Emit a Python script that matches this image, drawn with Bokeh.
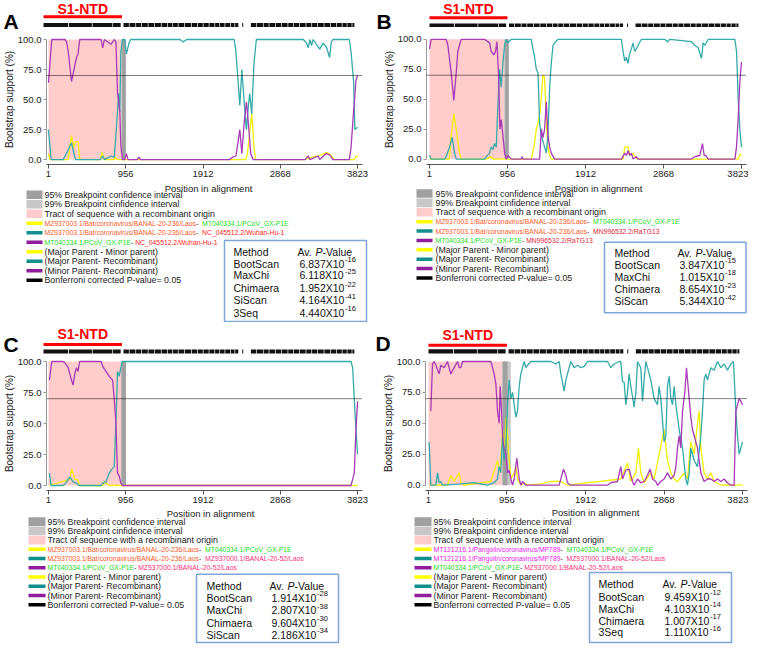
import math
from bokeh.plotting import figure
from bokeh.models import Range1d, FixedTicker, PrintfTickFormatter, Span
from bokeh.layouts import row, column
from bokeh.embed import file_html
from bokeh.resources import INLINE
from bokeh.core.properties import value

# ---------------- data ----------------
TICKS_X = [1, 956, 1912, 2868, 3823]
TICKS_Y = [0, 25, 50, 75, 100]
S1_NTD = (1, 956)
SITE_START, SITE_END = 1, 3785
SITE_GAPS = [(300, 310), (590, 598), (840, 848), (940, 975), (1040, 1048), (1120, 1128), (1190, 1198),
             (1270, 1278), (1350, 1358), (1430, 1438), (1505, 1513), (1570, 1578), (1636, 1644),
             (1712, 1720), (1798, 1806), (1872, 1880), (1940, 1948), (2012, 2020), (2082, 2090),
             (2142, 2150), (2205, 2213), (2272, 2280), (2326, 2334), (2372, 2420), (2432, 2525),
             (2592, 2600), (2672, 2680), (2742, 2750), (2822, 2830), (2892, 2900), (2972, 2980),
             (3042, 3050), (3112, 3120), (3192, 3200), (3262, 3270), (3332, 3340), (3412, 3420),
             (3492, 3500), (3562, 3570), (3632, 3640), (3692, 3700), (3752, 3760)]

# Panel A
A_yellow_pos = [1, 21, 245, 286, 314, 334, 367, 387, 643, 664, 692, 814, 826, 855, 2441, 2461, 2514, 2542, 2563, 3172, 3254, 3335, 3449, 3498, 3538, 3782, 3803, 3823]
A_yellow_val = [5, 0, 0, 20, 10, 15, 15, 0, 0, 6, 0, 0, 2, 0, 0, 5, 38, 10, 0, 0, 2, 3, 6, 3, 0, 0, 3, 2]
A_teal_pos = [1, 34, 184, 245, 286, 306, 334, 643, 672, 692, 774, 814, 835, 855, 867, 883, 896, 916, 944, 965, 997, 1017, 1627, 1668, 1709, 2298, 2319, 2351, 2367, 2392, 2408, 2432, 2449, 2473, 2489, 2514, 2542, 2571, 3152, 3193, 3213, 3233, 3254, 3274, 3355, 3396, 3437, 3477, 3498, 3518, 3721, 3742, 3774, 3790, 3823]
A_teal_val = [25, 0, 0, 8, 14, 8, 0, 0, 3, 0, 3, 2, 20, 40, 55, 40, 90, 100, 100, 88, 97, 100, 100, 98, 100, 100, 90, 60, 45, 75, 60, 38, 25, 45, 55, 38, 80, 100, 100, 97, 93, 100, 95, 100, 92, 97, 94, 85, 98, 100, 100, 90, 65, 25, 27]
A_purple_pos = [1, 42, 204, 225, 245, 286, 326, 347, 367, 387, 652, 672, 692, 774, 814, 835, 855, 867, 883, 896, 916, 944, 965, 985, 1099, 1119, 1140, 2237, 2278, 2319, 2367, 2392, 2420, 2449, 2473, 2502, 2530, 3172, 3213, 3233, 3335, 3355, 3437, 3477, 3518, 3721, 3742, 3774, 3803, 3823]
A_purple_val = [64, 100, 100, 98, 90, 65, 78, 85, 88, 100, 100, 93, 100, 96, 100, 98, 55, 50, 40, 12, 0, 0, 5, 0, 0, 2, 0, 0, 2, 3, 25, 5, 30, 48, 30, 5, 0, 0, 3, 0, 3, 0, 5, 4, 0, 0, 10, 40, 66, 70]
A_tract, A_ci99, A_ci95 = (1, 905), (900, 960), (912, 955)

# Panel B
B_yellow_pos = [1, 246, 267, 299, 328, 348, 369, 389, 696, 757, 778, 1248, 1281, 1309, 1330, 1358, 1391, 1411, 1432, 1452, 1473, 1493, 2372, 2393, 2433, 2454, 2495, 2515, 2556, 3783, 3803, 3823]
B_yellow_val = [0, 0, 20, 38, 25, 15, 5, 0, 0, 2, 0, 0, 10, 25, 30, 40, 70, 68, 30, 10, 3, 0, 0, 10, 10, 3, 5, 2, 0, 0, 4, 3]
B_teal_pos = [1, 21, 185, 205, 246, 279, 308, 328, 676, 696, 737, 757, 778, 798, 819, 839, 859, 880, 900, 921, 941, 962, 1003, 1248, 1268, 1289, 1309, 1330, 1350, 1371, 1391, 1411, 1432, 1452, 1473, 1493, 1514, 1534, 1575, 2352, 2372, 2393, 2413, 2433, 2454, 2474, 2495, 2515, 2535, 2556, 2597, 2883, 2916, 2944, 3210, 3250, 3292, 3333, 3353, 3374, 3415, 3742, 3762, 3783, 3803, 3823]
B_teal_val = [3, 0, 0, 2, 10, 18, 5, 0, 0, 2, 5, 10, 8, 13, 10, 45, 75, 60, 80, 95, 100, 97, 100, 100, 92, 85, 75, 72, 30, 20, 15, 10, 5, 20, 60, 80, 95, 97, 100, 100, 90, 82, 85, 80, 88, 92, 97, 90, 92, 95, 100, 100, 98, 100, 98, 95, 93, 84, 97, 95, 100, 100, 90, 50, 25, 10]
B_purple_pos = [1, 21, 185, 205, 226, 267, 299, 328, 348, 389, 676, 737, 757, 790, 810, 827, 847, 864, 880, 900, 921, 941, 962, 1003, 1125, 1135, 1146, 1350, 1371, 1391, 1411, 1432, 1452, 1473, 1493, 1534, 2352, 2393, 2413, 2433, 2454, 2474, 2495, 2535, 2556, 3210, 3250, 3312, 3345, 3366, 3386, 3415, 3742, 3762, 3783, 3803, 3823]
B_purple_val = [92, 100, 100, 100, 95, 72, 49, 72, 90, 100, 100, 97, 90, 87, 90, 98, 70, 25, 33, 20, 5, 0, 3, 0, 0, 2, 0, 0, 25, 18, 25, 48, 20, 10, 5, 0, 0, 5, 3, 7, 3, 5, 0, 2, 0, 0, 2, 3, 13, 3, 3, 0, 0, 10, 35, 65, 81]
B_tract, B_ci99, B_ci95 = (1, 921), (915, 974), (929, 970)

# Panel C
C_yellow_pos = [13, 265, 286, 306, 326, 359, 387, 672, 692, 733, 753, 3823]
C_yellow_val = [0, 5, 13, 10, 5, 5, 0, 0, 3, 1, 0, 0]
C_teal_pos = [13, 34, 184, 204, 265, 306, 347, 375, 652, 672, 713, 753, 782, 814, 835, 855, 875, 896, 916, 3742, 3762, 3782, 3803, 3823]
C_teal_val = [10, 0, 0, 1, 7, 3, 2, 0, 0, 2, 3, 10, 13, 15, 50, 92, 88, 95, 100, 100, 95, 70, 45, 25]
C_purple_pos = [13, 42, 184, 204, 245, 286, 306, 326, 347, 367, 387, 652, 672, 692, 733, 765, 794, 814, 835, 855, 875, 896, 916, 3742, 3782, 3803, 3823]
C_purple_val = [85, 100, 100, 99, 95, 85, 81, 90, 95, 92, 100, 100, 96, 94, 90, 87, 85, 70, 50, 10, 8, 2, 0, 0, 10, 45, 68]
C_tract, C_ci99, C_ci95 = (1, 900), (898, 960), (904, 958)

# Panel D
D_yellow_pos = [9, 232, 273, 313, 374, 395, 435, 760, 841, 874, 902, 922, 950, 971, 1003, 1044, 1064, 1084, 1125, 1165, 1206, 1368, 1490, 1612, 1693, 2342, 2423, 2443, 2464, 2525, 2557, 2585, 2626, 2707, 2748, 2869, 2910, 2951, 2991, 3032, 3113, 3153, 3194, 3235, 3275, 3296, 3316, 3356, 3397, 3437, 3478, 3559, 3823]
D_yellow_val = [0, 0, 8, 3, 10, 2, 0, 3, 20, 10, 45, 25, 55, 30, 5, 10, 15, 5, 0, 2, 0, 1, 3, 3, 0, 5, 18, 10, 3, 10, 30, 10, 2, 10, 5, 45, 20, 10, 5, 3, 10, 5, 35, 25, 50, 60, 30, 10, 5, 10, 3, 0, 0]
D_teal_pos = [9, 29, 90, 111, 131, 151, 171, 395, 557, 719, 800, 841, 861, 881, 902, 922, 942, 963, 983, 1003, 1024, 1064, 1084, 1105, 1125, 1165, 1186, 1206, 1247, 1490, 1551, 1591, 1612, 1652, 1673, 1713, 1733, 1774, 1815, 1855, 1896, 1936, 2180, 2220, 2261, 2322, 2342, 2362, 2383, 2403, 2423, 2443, 2464, 2504, 2525, 2545, 2585, 2606, 2626, 2646, 2667, 2707, 2748, 2788, 2808, 2829, 2869, 2890, 2910, 2930, 2951, 2971, 2991, 3012, 3032, 3052, 3093, 3133, 3153, 3174, 3194, 3235, 3275, 3316, 3336, 3356, 3376, 3397, 3437, 3478, 3518, 3559, 3600, 3640, 3681, 3713, 3742, 3762, 3782, 3802, 3823]
D_teal_val = [35, 0, 0, 10, 2, 3, 0, 1, 2, 0, 2, 5, 15, 10, 40, 20, 30, 65, 85, 70, 75, 55, 60, 80, 90, 100, 95, 97, 100, 100, 98, 100, 90, 76, 85, 95, 100, 95, 97, 95, 96, 100, 100, 95, 98, 100, 100, 84, 83, 65, 75, 90, 80, 63, 75, 100, 95, 68, 85, 100, 95, 85, 70, 65, 80, 70, 35, 40, 80, 88, 70, 65, 80, 65, 55, 45, 30, 5, 0, 10, 30, 20, 15, 40, 60, 85, 90, 85, 95, 93, 100, 95, 98, 93, 98, 100, 60, 40, 25, 30, 35]
D_purple_pos = [29, 50, 70, 90, 131, 151, 192, 232, 273, 313, 354, 374, 395, 415, 760, 800, 821, 841, 861, 874, 890, 902, 922, 942, 963, 983, 1003, 1024, 1044, 1076, 1105, 1125, 1145, 1186, 1591, 1612, 1644, 1673, 1693, 1733, 2180, 2220, 2301, 2342, 2362, 2403, 2443, 2484, 2504, 2545, 2585, 2626, 2667, 2699, 2727, 2768, 2788, 2829, 2869, 2910, 2951, 2991, 3012, 3032, 3052, 3072, 3093, 3121, 3141, 3174, 3194, 3214, 3235, 3275, 3316, 3356, 3397, 3437, 3478, 3518, 3559, 3600, 3640, 3681, 3721, 3742, 3762, 3782, 3802, 3823]
D_purple_val = [60, 98, 100, 97, 90, 97, 95, 100, 90, 95, 100, 95, 95, 100, 100, 90, 82, 60, 50, 80, 60, 40, 30, 25, 10, 12, 5, 0, 5, 22, 5, 0, 3, 0, 0, 5, 13, 8, 2, 0, 0, 2, 3, 15, 5, 12, 13, 3, 0, 5, 2, 3, 8, 13, 5, 3, 0, 3, 5, 10, 5, 8, 15, 30, 40, 30, 60, 75, 95, 70, 55, 45, 40, 30, 10, 3, 5, 5, 3, 5, 3, 5, 2, 0, 0, 60, 65, 70, 68, 65]
D_tract, D_ci99, D_ci95 = (1, 902), (902, 1003), (902, 963)

# legend / p-value texts
STRAIN_BANAL236 = "MZ937003.1/Bat/coronavirus/BANAL-20-236/Laos"
STRAIN_GXP1E = "MT040334.1/PCoV_GX-P1E"
STRAIN_WUHAN = "NC_045512.2/Wuhan-Hu-1"
STRAIN_RATG13 = "MN996532.2/RaTG13"
STRAIN_BANAL52 = "MZ937000.1/BANAL-20-52/Laos"
STRAIN_MP789 = "MT121216.1/Pangolin/coronavirus/MP789"

A_methods = ["BootScan", "MaxChi", "Chimaera", "SiScan", "3Seq"]
A_mant = ["6.837", "6.118", "1.952", "4.164", "4.440"]
A_exp = ["-16", "-25", "-22", "-41", "-16"]
B_methods = ["BootScan", "MaxChi", "Chimaera", "SiScan"]
B_mant = ["3.847", "1.015", "8.654", "5.344"]
B_exp = ["-15", "-18", "-23", "-42"]
C_methods = ["BootScan", "MaxChi", "Chimaera", "SiScan"]
C_mant = ["1.914", "2.807", "9.604", "2.186"]
C_exp = ["-28", "-38", "-30", "-34"]
D_methods = ["BootScan", "MaxChi", "Chimaera", "3Seq"]
D_mant = ["9.459", "4.103", "1.007", "1.110"]
D_exp = ["-12", "-14", "-17", "-16"]

LEGEND_FIXED = ["95% Breakpoint confidence interval", "99% Breakpoint cinfidence interval",
                "Tract of sequence with a recombinant origin"]
LEGEND_PAIRS = ["(Major Parent - Minor parent)", "(Major Parent- Recombinant)",
                "(Minor Parent- Recombinant)", "Bonferroni corrected P-value= 0.05"]

# ---------------- style ----------------
FONT = "Liberation Sans"
YEL, TEAL, PURP = "#f2f000", "#35aaaa", "#a83ab8"
SW_YEL, SW_TEAL, SW_PURP = "#ffff00", "#118e8e", "#8e1c9c"
ORANGE, GREEN, RED, CRIMSON, PINK, MAGENTA = "#ff5a28", "#22dd22", "#ff1a1a", "#e0283c", "#ff2e7a", "#ee22ee"
PINK_BG, CI99, CI95 = "#ffcccc", "#c8c8c8", "#a0a0a0"
STRAIN_FS = 6.8

AW = {' ': 278, '-': 333, '.': 278, '/': 278, '_': 556, '(': 333, ')': 333, '%': 889, '=': 584,
      'A': 667, 'B': 667, 'C': 722, 'D': 722, 'E': 667, 'F': 611, 'G': 778, 'H': 722, 'I': 278, 'J': 500,
      'K': 667, 'L': 556, 'M': 833, 'N': 722, 'O': 778, 'P': 667, 'Q': 778, 'R': 722, 'S': 667, 'T': 611,
      'U': 722, 'V': 667, 'W': 944, 'X': 667, 'Y': 667, 'Z': 611,
      'a': 556, 'b': 556, 'c': 500, 'd': 556, 'e': 556, 'f': 278, 'g': 556, 'h': 556, 'i': 222, 'j': 222,
      'k': 500, 'l': 222, 'm': 833, 'n': 556, 'o': 556, 'p': 556, 'q': 556, 'r': 333, 's': 500, 't': 278,
      'u': 556, 'v': 500, 'w': 722, 'x': 500, 'y': 500, 'z': 500}


def tw(s, size):
    return sum(AW.get(c, 556) for c in s) / 1000.0 * size


PANELS = [
    dict(name="A", yellow=(A_yellow_pos, A_yellow_val), teal=(A_teal_pos, A_teal_val), purple=(A_purple_pos, A_purple_val),
         tract=A_tract, ci99=A_ci99, ci95=A_ci95, methods=A_methods, mant=A_mant, exp=A_exp,
         strains=[[(STRAIN_BANAL236, ORANGE), (" - ", "#222"), (STRAIN_GXP1E, GREEN)],
                  [(STRAIN_BANAL236, ORANGE), (" - ", "#222"), (STRAIN_WUHAN, RED)],
                  [(STRAIN_GXP1E, GREEN), ("- ", "#222"), (STRAIN_WUHAN, RED)]],
         x0=43, x1=357, fl=41, fr=362, y100=39.0, y0=159.1, yax=164, head=34, ntd_y=8.6, red_y=16.2, bar_y=(22.5, 26.5),
         lab_x=3, lab_y=21.3, panel_h=322, pia=(208, 187.5), row0=194.2, dy=9.51, sw=(26, 42), tx=44,
         box=(224, 240, 366, 321), mx=233, ax=297, vx=299, rows_y=[251.5, 263.5, 274.9, 287.9, 299.9, 312.3]),
    dict(name="B", yellow=(B_yellow_pos, B_yellow_val), teal=(B_teal_pos, B_teal_val), purple=(B_purple_pos, B_purple_val),
         tract=B_tract, ci99=B_ci99, ci95=B_ci95, methods=B_methods, mant=B_mant, exp=B_exp,
         strains=[[(STRAIN_BANAL236, ORANGE), (" - ", "#222"), (STRAIN_GXP1E, GREEN)],
                  [(STRAIN_BANAL236, ORANGE), (" - ", "#222"), (STRAIN_RATG13, CRIMSON)],
                  [(STRAIN_GXP1E, GREEN), ("- ", "#222"), (STRAIN_RATG13, CRIMSON)]],
         x0=55, x1=367, fl=52, fr=372, y100=38.8, y0=158.6, yax=164, head=34, ntd_y=8.4, red_y=17.2, bar_y=(23.0, 26.6),
         lab_x=2, lab_y=21.3, panel_h=322, pia=(224, 187.5), row0=193.0, dy=9.39, sw=(42, 58), tx=61,
         box=(230, 241.7, 371.5, 312.3), mx=240, ax=303, vx=305, rows_y=[252.8, 264.5, 276.5, 288.9, 300.9]),
    dict(name="C", yellow=(C_yellow_pos, C_yellow_val), teal=(C_teal_pos, C_teal_val), purple=(C_purple_pos, C_purple_val),
         tract=C_tract, ci99=C_ci99, ci95=C_ci95, methods=C_methods, mant=C_mant, exp=C_exp,
         strains=[[(STRAIN_BANAL236, ORANGE), (" - ", "#222"), (STRAIN_GXP1E, GREEN)],
                  [(STRAIN_BANAL236, ORANGE), (" - ", "#222"), (STRAIN_BANAL52, PINK)],
                  [(STRAIN_GXP1E, GREEN), ("- ", "#222"), (STRAIN_BANAL52, PINK)]],
         x0=43, x1=357, fl=41, fr=362, y100=39.0, y0=163.0, yax=168, head=34, ntd_y=11.6, red_y=22.1, bar_y=(27.0, 31.0),
         lab_x=3, lab_y=21.5, panel_h=325, pia=(210, 190.5), row0=199.1, dy=9.25, sw=(28, 45), tx=47,
         box=(196, 251.8, 338, 320), mx=206, ax=269, vx=271, rows_y=[263.5, 275.5, 287.9, 300.3, 312.3]),
    dict(name="D", yellow=(D_yellow_pos, D_yellow_val), teal=(D_teal_pos, D_teal_val), purple=(D_purple_pos, D_purple_val),
         tract=D_tract, ci99=D_ci99, ci95=D_ci95, methods=D_methods, mant=D_mant, exp=D_exp,
         strains=[[(STRAIN_MP789, MAGENTA), (" - ", "#222"), (STRAIN_GXP1E, GREEN)],
                  [(STRAIN_MP789, MAGENTA), (" - ", "#222"), (STRAIN_BANAL52, PINK)],
                  [(STRAIN_GXP1E, GREEN), ("- ", "#222"), (STRAIN_BANAL52, PINK)]],
         x0=54, x1=368, fl=51, fr=373, y100=39.0, y0=162.7, yax=168, head=34, ntd_y=12.2, red_y=22.7, bar_y=(26.7, 31.0),
         lab_x=1, lab_y=21.3, panel_h=325, pia=(221, 189.8), row0=199.1, dy=9.25, sw=(40, 57), tx=59,
         box=(215, 249.9, 357, 320), mx=224, ax=288, vx=290, rows_y=[261.9, 274.0, 286.3, 298.4, 309.7]),
]

W = 374


def scales(P):
    x0, x1 = P["x0"], P["x1"]
    y100, y0 = P["y100"], P["y0"]
    kx = 3822.0 / (x1 - x0)
    ky = 100.0 / (y0 - y100)
    return (lambda px: 1 + (px - x0) * kx), (lambda py: (y0 - py) * ky)


def blank_fig(xr, yr, H):
    f = figure(width=W, height=H, output_backend="svg", toolbar_location=None,
               x_range=xr, y_range=yr, x_axis_type=None, y_axis_type=None,
               min_border=0, min_border_left=0, min_border_right=0, min_border_top=0, min_border_bottom=0,
               outline_line_color=None, background_fill_color="white", border_fill_color="white",
               frame_align=False)
    f.grid.visible = False
    return f


def make_header(P):
    X, _ = scales(P)
    Hh = P["head"]
    h = blank_fig(Range1d(X(0), X(W)), Range1d(Hh, 0), Hh)
    lefts, rights = [], []
    prev = SITE_START
    for g0, g1 in SITE_GAPS:
        lefts.append(prev)
        rights.append(g0)
        prev = g1
    lefts.append(prev)
    rights.append(SITE_END)
    b0, b1 = P["bar_y"]
    h.quad(left=lefts, right=rights, bottom=b1, top=b0, fill_color="#111111", line_color=None)
    h.segment(x0=[S1_NTD[0]], x1=[S1_NTD[1]], y0=[P["red_y"]], y1=[P["red_y"]],
              line_color="#ff0000", line_width=3)
    h.text(x=[(S1_NTD[0] + S1_NTD[1]) / 2], y=[P["ntd_y"]], text=["S1-NTD"], text_align="center",
           text_baseline="middle", text_color="#ff0000", text_font=value(FONT), text_font_style="bold",
           text_font_size=value("14px"))
    h.text(x=[X(P["lab_x"])], y=[P["lab_y"]], text=[P["name"]], text_align="left",
           text_baseline="alphabetic", text_color="#000000", text_font=value(FONT), text_font_style="bold",
           text_font_size=value("21px"))
    return h


def make_chart(P):
    X, Y = scales(P)
    fl, fr, yax, Hh = P["fl"], P["fr"], P["yax"], P["head"]
    H = yax + 18 - Hh
    p = figure(width=W, height=H, output_backend="svg", toolbar_location=None,
               x_range=Range1d(X(fl), X(fr)), y_range=Range1d(Y(yax), Y(Hh)),
               min_border_left=fl, min_border_right=W - fr, min_border_top=0, min_border_bottom=18,
               background_fill_color="white", border_fill_color="white", outline_line_color=None,
               frame_align=False)
    p.grid.visible = False

    t0, t1 = P["tract"]
    p.quad(left=[t0], right=[t1], bottom=[0], top=[100], fill_color=PINK_BG, line_color=None)
    c0, c1 = P["ci99"]
    p.quad(left=[c0], right=[c1], bottom=[0], top=[100], fill_color=CI99, line_color=None)
    c0, c1 = P["ci95"]
    p.quad(left=[c0], right=[c1], bottom=[0], top=[100], fill_color=CI95, line_color=None)

    for key, col in (("yellow", YEL), ("teal", TEAL), ("purple", PURP)):
        xs, ys = P[key]
        p.line(xs, ys, line_color=col, line_width=1.3)

    p.add_layout(Span(location=70, dimension="width", line_color="#000000", line_width=1, line_dash="1 1"))

    p.xaxis.ticker = FixedTicker(ticks=TICKS_X)
    p.yaxis.ticker = FixedTicker(ticks=TICKS_Y)
    p.yaxis.formatter = PrintfTickFormatter(format="%.1f")
    p.yaxis.bounds = (0, 100)
    for ax in (p.xaxis, p.yaxis):
        ax.major_label_text_font = FONT
        ax.major_label_text_font_size = "9.5px"
        ax.major_label_text_color = "#222222"
        ax.minor_tick_line_color = None
        ax.major_tick_in = 0
    p.xaxis.major_tick_out = 4
    p.xaxis.major_label_standoff = 2
    p.xaxis.axis_line_color = "#555555"
    p.xaxis.major_tick_line_color = "#555555"
    p.yaxis.major_tick_out = 3
    p.yaxis.major_label_standoff = 2
    p.yaxis.axis_line_color = "#999999"
    p.yaxis.major_tick_line_color = "#999999"
    p.yaxis.axis_label = "Bootstrap support (%)"
    p.yaxis.axis_label_text_font = FONT
    p.yaxis.axis_label_text_font_size = "10px"
    p.yaxis.axis_label_text_font_style = "normal"
    p.yaxis.axis_label_text_color = "#222222"
    p.yaxis.axis_label_standoff = 0
    return p


def make_legend(P):
    top = P["yax"] + 18
    H = P["panel_h"] - top
    q = blank_fig(Range1d(0, W), Range1d(top + H, top), H)

    txt = dict(text_font=value(FONT), text_baseline="middle", text_align="left")
    q.text(x=[P["pia"][0]], y=[P["pia"][1]], text=["Position in alignment"], text_font=value(FONT),
           text_font_size=value("9.5px"), text_color="#222222", text_align="center", text_baseline="middle")

    ys = [P["row0"] + i * P["dy"] for i in range(10)]
    s0, s1 = P["sw"]
    tx = P["tx"]
    q.quad(left=[s0] * 3, right=[s1] * 3, top=[y - 4.3 for y in ys[:3]], bottom=[y + 4.3 for y in ys[:3]],
           fill_color=[CI95, CI99, PINK_BG], line_color=None)
    q.text(x=[tx] * 3, y=ys[:3], text=LEGEND_FIXED, text_font_size=value("8.8px"), text_color="#222222", **txt)
    sw_cols = [SW_YEL, SW_TEAL, SW_PURP, SW_YEL, SW_TEAL, SW_PURP, "#000000"]
    q.segment(x0=[s0] * 7, x1=[s1] * 7, y0=ys[3:], y1=ys[3:], line_color=sw_cols, line_width=3.5)
    for i, segs in enumerate(P["strains"]):
        cx = tx
        for s, colr in segs:
            q.text(x=[cx], y=[ys[3 + i]], text=[s], text_font=value(FONT), text_font_size=value("%.1fpx" % STRAIN_FS),
                   text_color=colr, text_baseline="middle", text_align="left")
            cx += tw(s, STRAIN_FS)
    q.text(x=[tx] * 4, y=ys[6:], text=LEGEND_PAIRS, text_font_size=value("8.8px"), text_color="#222222", **txt)

    bx0, by0, bx1, by1 = P["box"]
    q.quad(left=[bx0], right=[bx1], top=[by0], bottom=[by1], fill_color="white",
           line_color="#7ea6d8", line_width=1.5)
    fs = 10.5
    ry = P["rows_y"]
    q.text(x=[P["mx"]], y=[ry[0]], text=["Method"], text_font_size=value("10.5px"), text_color="#111111", **txt)
    ax = P["ax"]
    q.text(x=[ax], y=[ry[0]], text=["Av. "], text_font_size=value("10.5px"), text_color="#111111", **txt)
    q.text(x=[ax + tw("Av. ", fs)], y=[ry[0]], text=["P"], text_font_size=value("10.5px"),
           text_font_style="italic", text_color="#111111", **txt)
    q.text(x=[ax + tw("Av. P", fs)], y=[ry[0]], text=["-Value"], text_font_size=value("10.5px"),
           text_color="#111111", **txt)
    n = len(P["methods"])
    q.text(x=[P["mx"]] * n, y=ry[1:], text=P["methods"], text_font_size=value("10.5px"),
           text_color="#111111", **txt)
    bases = [m + "X10" for m in P["mant"]]
    q.text(x=[P["vx"]] * n, y=ry[1:], text=bases, text_font_size=value("10.5px"),
           text_color="#111111", **txt)
    q.text(x=[P["vx"] + tw(b, fs) + 0.6 for b in bases], y=[y - 4.2 for y in ry[1:]], text=P["exp"],
           text_font_size=value("7.5px"), text_color="#111111", **txt)
    return q


cols = []
for P in PANELS:
    cols.append(column(make_header(P), make_chart(P), make_legend(P), spacing=0))

layout = column(row(cols[0], cols[1], spacing=0), row(cols[2], cols[3], spacing=0), spacing=0)

with open("out.html", "w") as f:
    f.write(file_html(layout, INLINE))
